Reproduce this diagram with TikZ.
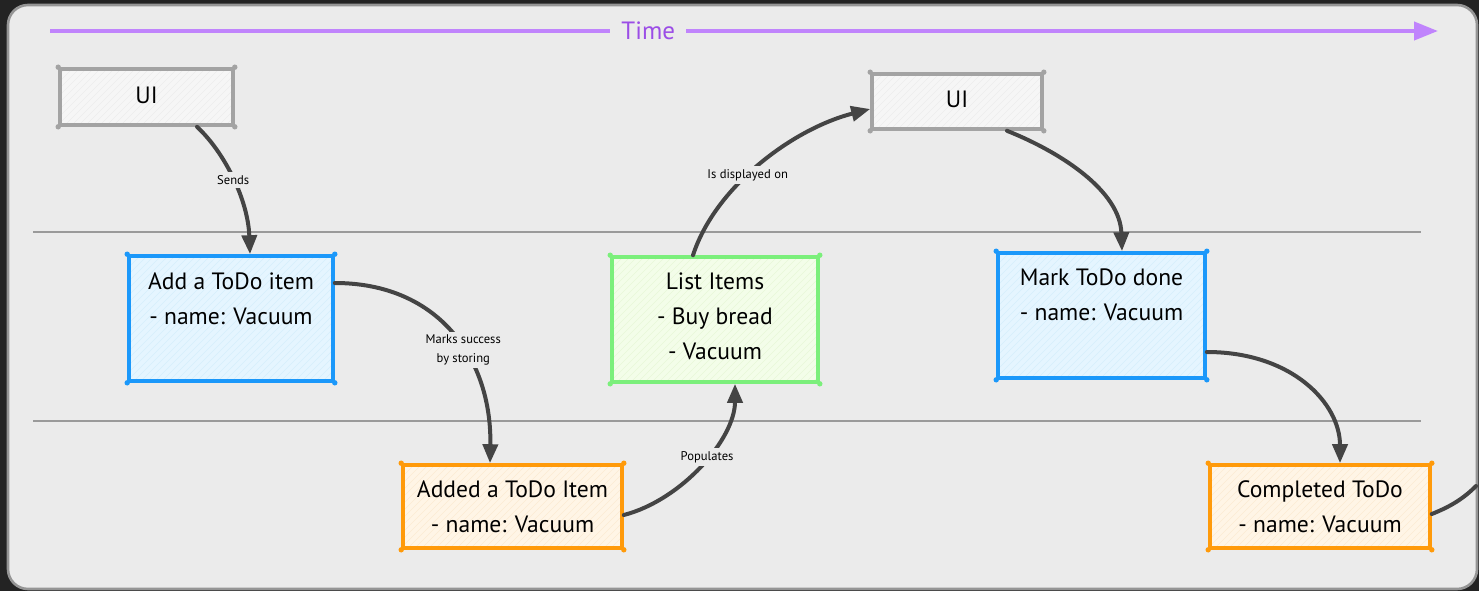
\documentclass[tikz,border=0pt]{standalone}
\usepackage{fontspec}
\setmainfont{PT Sans}
\usetikzlibrary{arrows.meta}

\definecolor{outerbg}{HTML}{232323}
\definecolor{framefill}{HTML}{EBEBEB}
\definecolor{framebord}{HTML}{959595}
\definecolor{timeline}{HTML}{C084FC}
\definecolor{timetext}{HTML}{9B4DE6}
\definecolor{lanecol}{HTML}{9A9A9A}
\definecolor{conncol}{HTML}{444444}
\definecolor{uibord}{HTML}{A3A3A3}
\definecolor{uifill}{HTML}{F6F6F6}
\definecolor{uihatch}{HTML}{EDEDED}
\definecolor{bluebord}{HTML}{1B98FA}
\definecolor{bluefill}{HTML}{E5F5FF}
\definecolor{bluehatch}{HTML}{D6EEFC}
\definecolor{orgbord}{HTML}{FF9A0A}
\definecolor{orgfill}{HTML}{FFF5E6}
\definecolor{orghatch}{HTML}{FCEBD3}
\definecolor{grnbord}{HTML}{7BEF7B}
\definecolor{grnfill}{HTML}{F3FDE9}
\definecolor{grnhatch}{HTML}{E7F7D9}

\tikzset{
  hatch/.style={path picture={
    \foreach \k in {-170,-163,...,240}{
      \draw[#1,line width=0.6pt]
        ([xshift=\k pt]path picture bounding box.south west) -- ++(170pt,170pt);
    }}},
  card/.style n args={4}{draw=#1, fill=#2, hatch=#3, line width=3.6pt,
    inner sep=0pt, minimum width=#4},
  cardtext/.style={align=center, inner sep=0pt,
    font=\fontsize{23.6}{35}\selectfont},
  conn/.style={draw=conncol, line width=4pt, line cap=round,
    -{Triangle[length=19pt,width=15pt]}},
  plainconn/.style={draw=conncol, line width=4pt, line cap=round},
  lab/.style={fill=framefill, inner sep=3pt, align=center,
    font=\fontsize{12.6}{19}\selectfont},
  lane/.style={draw=lanecol, line width=1.6pt},
}

\begin{document}
\begin{tikzpicture}[x=1pt,y=-1pt]
  % canvas and frame
  \fill[outerbg] (0,0) rectangle (1479,591);
  \useasboundingbox (0,0) rectangle (1479,591);
  \draw[fill=framefill, draw=framebord, line width=2.6pt, rounded corners=20pt]
    (8,5) rectangle (1477,589);

  % time axis
  \coordinate (tstart) at (50,31);
  \coordinate (tend) at (1438,31);
  \draw[draw=timeline, line width=4pt, -{Triangle[length=24pt,width=18pt]}]
    (tstart) -- node[pos=0.431, fill=framefill, inner xsep=11pt, inner ysep=2pt,
      text=timetext, font=\fontsize{25}{28}\selectfont] (timelabel) {Time} (tend);

  % swimlane separators
  \coordinate (lane1a) at (33,232);
  \coordinate (lane1b) at (1421,232);
  \coordinate (lane2a) at (33,421);
  \coordinate (lane2b) at (1421,421);
  \draw[lane] (lane1a) -- (lane1b);
  \draw[lane] (lane2a) -- (lane2b);

  % cards
  \node[card={uibord}{uifill}{uihatch}{173pt}, minimum height=56pt] (ui1) at (146.5,97) {};
  \node[cardtext] (ui1txt) at (146.5,95) {UI};

  \node[card={bluebord}{bluefill}{bluehatch}{204pt}, minimum height=125pt] (add) at (231,318.5) {};
  \node[cardtext] (addtxt) at (231,298.5) {Add a ToDo item\\- name: Vacuum};

  \node[card={orgbord}{orgfill}{orghatch}{219pt}, minimum height=83pt] (added) at (512.5,506.5) {};
  \node[cardtext] (addedtxt) at (added) {Added a ToDo Item\\- name: Vacuum};

  \node[card={grnbord}{grnfill}{grnhatch}{206pt}, minimum height=125pt] (list) at (715,319.5) {};
  \node[cardtext] (listtxt) at (715,316) {List Items\\- Buy bread\\- Vacuum};

  \node[card={uibord}{uifill}{uihatch}{170pt}, minimum height=55pt] (ui2) at (957,101.5) {};
  \node[cardtext] (ui2txt) at (957,99.5) {UI};

  \node[card={bluebord}{bluefill}{bluehatch}{207pt}, minimum height=125pt] (mark) at (1101.5,315.5) {};
  \node[cardtext] (marktxt) at (1101.5,294.5) {Mark ToDo done\\- name: Vacuum};

  \node[card={orgbord}{orgfill}{orghatch}{220pt}, minimum height=83pt] (done) at (1320,506.5) {};
  \node[cardtext] (donetxt) at (done) {Completed ToDo\\- name: Vacuum};

  % sketchy corner dots
  \foreach \n/\c in {ui1/uibord, ui2/uibord, add/bluebord, mark/bluebord,
                     added/orgbord, done/orgbord, list/grnbord}{
    \foreach \a in {north west, north east, south west, south east}{
      \fill[\c] (\n.\a) circle (2.7pt);
    }
  }

  % connectors
  \draw[conn] ([xshift=50.5pt]ui1.south) .. controls +(28,26) and +(-2,-54) ..
    node[lab, pos=0.5] (l1) {Sends} ([xshift=19pt]add.north);

  \draw[conn] ([yshift=35.5pt]add.east) .. controls +(105,0) and +(2,-103) ..
    node[lab, pos=0.575] (l2) {Marks success\\by storing} ([xshift=-22.5pt]added.north);

  \draw[conn] ([yshift=-8.5pt]added.east) .. controls +(58,-15) and +(0,55) ..
    node[lab, pos=0.55] (l3) {Populates} ([xshift=20pt]list.south);

  \draw[conn] ([xshift=-22pt]list.north) .. controls +(22,-68) and +(-78,20) ..
    node[lab, pos=0.43] (l4) {Is displayed on} ([yshift=-7.5pt]ui2.west);

  \draw[conn] ([xshift=50pt]ui2.south) .. controls +(55,22) and +(-2,-60) ..
    ([xshift=20.5pt]mark.north);

  \draw[conn] ([yshift=-36.5pt]mark.east) .. controls +(85,0) and +(0,-60) ..
    ([xshift=20pt]done.north);

  \coordinate (exitpt) at (1476,486);
  \draw[plainconn] ([yshift=-7.5pt]done.east) .. controls +(20,-8) and +(-12,12) ..
    (exitpt);
\end{tikzpicture}
\end{document}
